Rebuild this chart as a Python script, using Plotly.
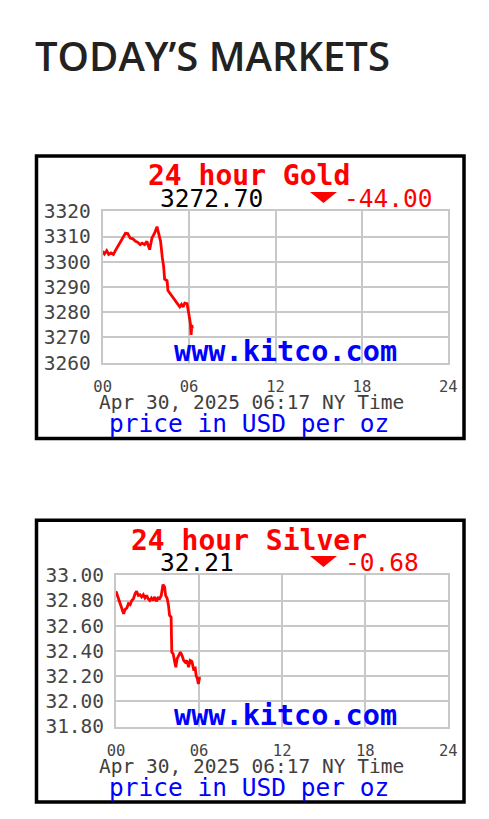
import plotly.graph_objects as go

W, H = 489, 819
# the page body adds an 8px offset; positions below are given in screen pixels
OFF = 8

# ---- data ----
gold_hours = [0.00, 0.12, 0.28, 0.42, 0.58, 0.74, 0.88, 1.05, 1.21, 1.40, 1.58, 1.74, 1.91, 2.09,
              2.28, 2.44, 2.60, 2.74, 2.91, 3.07, 3.26, 3.42, 3.60, 3.77, 3.91, 4.02, 4.14, 4.23,
              4.30, 4.47, 4.53, 4.70, 4.84, 5.00, 5.16, 5.35, 5.47, 5.58, 5.70, 5.86, 5.98, 6.09,
              6.14, 6.19, 6.23]
gold_price = [3304.2, 3303.1, 3304.4, 3302.9, 3303.5, 3302.9, 3304.4, 3306.1, 3308.1, 3310.0,
              3311.3, 3311.2, 3309.4, 3309.1, 3308.1, 3307.7, 3306.8, 3307.4, 3306.8, 3308.1,
              3304.8, 3309.4, 3311.3, 3313.9, 3310.6, 3308.1, 3301.6, 3298.3, 3293.1, 3292.5,
              3288.6, 3287.3, 3286.2, 3284.9, 3283.6, 3282.1, 3283.1, 3282.1, 3283.6, 3283.4,
              3279.4, 3275.5, 3271.0, 3274.9, 3273.6]

silver_hours = [0.00, 0.14, 0.31, 0.43, 0.55, 0.66, 0.78, 0.90, 1.02, 1.14, 1.26, 1.38, 1.49,
                1.61, 1.73, 1.85, 1.97, 2.09, 2.21, 2.32, 2.44, 2.56, 2.68, 2.80, 2.92, 3.04,
                3.15, 3.27, 3.39, 3.51, 3.58, 3.70, 3.79, 3.87, 3.98, 4.03, 4.13, 4.22, 4.32,
                4.41, 4.53, 4.65, 4.77, 4.89, 5.00, 5.12, 5.24, 5.36, 5.48, 5.60, 5.72, 5.79,
                5.88, 5.95, 6.02, 6.12]
silver_price = [32.873, 32.828, 32.775, 32.748, 32.695, 32.730, 32.740, 32.775, 32.767, 32.800,
                32.814, 32.854, 32.873, 32.840, 32.846, 32.828, 32.846, 32.820, 32.840, 32.814,
                32.800, 32.820, 32.800, 32.828, 32.793, 32.820, 32.814, 32.840, 32.926, 32.907,
                32.840, 32.814, 32.761, 32.682, 32.668, 32.390, 32.377, 32.324, 32.270, 32.337,
                32.363, 32.390, 32.363, 32.324, 32.310, 32.324, 32.270, 32.324, 32.316, 32.257,
                32.263, 32.204, 32.178, 32.138, 32.183, 32.183]

hour_ticks = [0, 6, 12, 18, 24]
hour_labels = ["00", "06", "12", "18", "24"]
gold_ticks = [3260, 3270, 3280, 3290, 3300, 3310, 3320]
gold_labels = ["3260", "3270", "3280", "3290", "3300", "3310", "3320"]
silver_ticks = [31.8, 32.0, 32.2, 32.4, 32.6, 32.8, 33.0]
silver_labels = ["31.80", "32.00", "32.20", "32.40", "32.60", "32.80", "33.00"]

heading = "TODAY’S MARKETS"
gold_title, gold_last, gold_change = "24 hour Gold", "3272.70", "-44.00"
silver_title, silver_last, silver_change = "24 hour Silver", "32.21", "-0.68"
date_text = "Apr 30, 2025 06:17 NY Time"
unit_text = "price in USD per oz"
site_text = "www.kitco.com"


def px(x):
    return (x - OFF) / W


def py(y):
    return 1 - (y - OFF) / H


MONO = "DejaVu Sans Mono"
GRID = "#c8c8c8"
TICKC = "#444444"

fig = go.Figure()
fig.add_trace(go.Scatter(x=gold_hours, y=gold_price, mode="lines",
                         line=dict(color="#ff0000", width=2.8), xaxis="x", yaxis="y",
                         showlegend=False, hoverinfo="skip"))
fig.add_trace(go.Scatter(x=silver_hours, y=silver_price, mode="lines",
                         line=dict(color="#ff0000", width=2.8), xaxis="x2", yaxis="y2",
                         showlegend=False, hoverinfo="skip"))

ax_common = dict(showgrid=True, gridcolor=GRID, gridwidth=2, showline=True, linecolor=GRID,
                 linewidth=2, mirror=True, zeroline=False, fixedrange=True, automargin=False,
                 ticks="outside", tickcolor="rgba(0,0,0,0)")

fig.update_layout(
    width=W, height=H, autosize=False, showlegend=False,
    margin=dict(l=0, r=0, t=0, b=0, pad=0, autoexpand=False),
    paper_bgcolor="white", plot_bgcolor="white",
    xaxis=dict(domain=[px(102.7), px(448.3)], anchor="y", range=[0, 24],
               tickvals=hour_ticks, ticktext=hour_labels, ticklen=9,
               tickfont=dict(family=MONO, size=15.5, color=TICKC), **ax_common),
    yaxis=dict(domain=[py(362.7), py(211.3)], anchor="x", range=[3260, 3320],
               tickvals=gold_ticks, ticktext=gold_labels, ticklen=6,
               tickfont=dict(family=MONO, size=19.5, color=TICKC), **ax_common),
    xaxis2=dict(domain=[px(116), px(448.3)], anchor="y2", range=[0, 24],
                tickvals=hour_ticks, ticktext=hour_labels, ticklen=9,
                tickfont=dict(family=MONO, size=15.5, color=TICKC), **ax_common),
    yaxis2=dict(domain=[py(726.5), py(575.3)], anchor="x2", range=[31.8, 33.0],
                tickvals=silver_ticks, ticktext=silver_labels, ticklen=6,
                tickfont=dict(family=MONO, size=19.5, color=TICKC), **ax_common),
)

annotations = [
    dict(x=px(34), y=py(55), text=heading, xanchor="left", yanchor="middle",
         font=dict(family="Open Sans", size=40, color="#222222", weight=600)),
]


def chart_texts(top_off, title, last, last_x, change, change_x):
    # top_off: vertical offset of the chart block in pixels
    return [
        dict(x=px(249), y=py(176 + top_off), text="<b>%s</b>" % title,
             font=dict(family=MONO, size=28, color="#ff0000")),
        dict(x=px(last_x), y=py(198 + top_off), text=last,
             font=dict(family=MONO, size=24.5, color="#000000")),
        dict(x=px(change_x), y=py(198 + top_off), text=change,
             font=dict(family=MONO, size=24.5, color="#ff0000")),
        dict(x=px(285), y=py(351 + top_off), text="<b>%s</b>" % site_text,
             font=dict(family=MONO, size=28.5, color="#0000ff")),
        dict(x=px(251), y=py(402.5 + top_off), text=date_text,
             font=dict(family=MONO, size=19.5, color="#404040")),
        dict(x=px(248.5), y=py(423.5 + top_off), text=unit_text,
             font=dict(family=MONO, size=24.5, color="#0000ff")),
    ]


annotations += chart_texts(0, gold_title, gold_last, 211.5, gold_change, 388.5)
annotations += chart_texts(364, silver_title, silver_last, 196.5, silver_change, 381.5)
for a in annotations:
    a.setdefault("xref", "paper")
    a.setdefault("yref", "paper")
    a["showarrow"] = False
    a.setdefault("xanchor", "center")
    a.setdefault("yanchor", "middle")
    a["borderpad"] = 0
fig.update_layout(annotations=annotations)

shapes = []
for top, bottom in [(156, 438.5), (520.3, 802)]:
    shapes.append(dict(type="rect", xref="paper", yref="paper",
                       x0=px(36.5), x1=px(464), y0=py(bottom), y1=py(top),
                       line=dict(color="black", width=3.5), fillcolor="rgba(0,0,0,0)"))
for cy in [197.5, 561.5]:
    x0, x1, xm = px(310), px(337), px(323.5)
    yt, yb = py(cy - 5.5), py(cy + 5.5)
    shapes.append(dict(type="path", xref="paper", yref="paper",
                       path="M %f %f L %f %f L %f %f Z" % (x0, yt, x1, yt, xm, yb),
                       fillcolor="#ff0000", line=dict(width=0)))
fig.update_layout(shapes=shapes)

fig.write_html("out.html")
